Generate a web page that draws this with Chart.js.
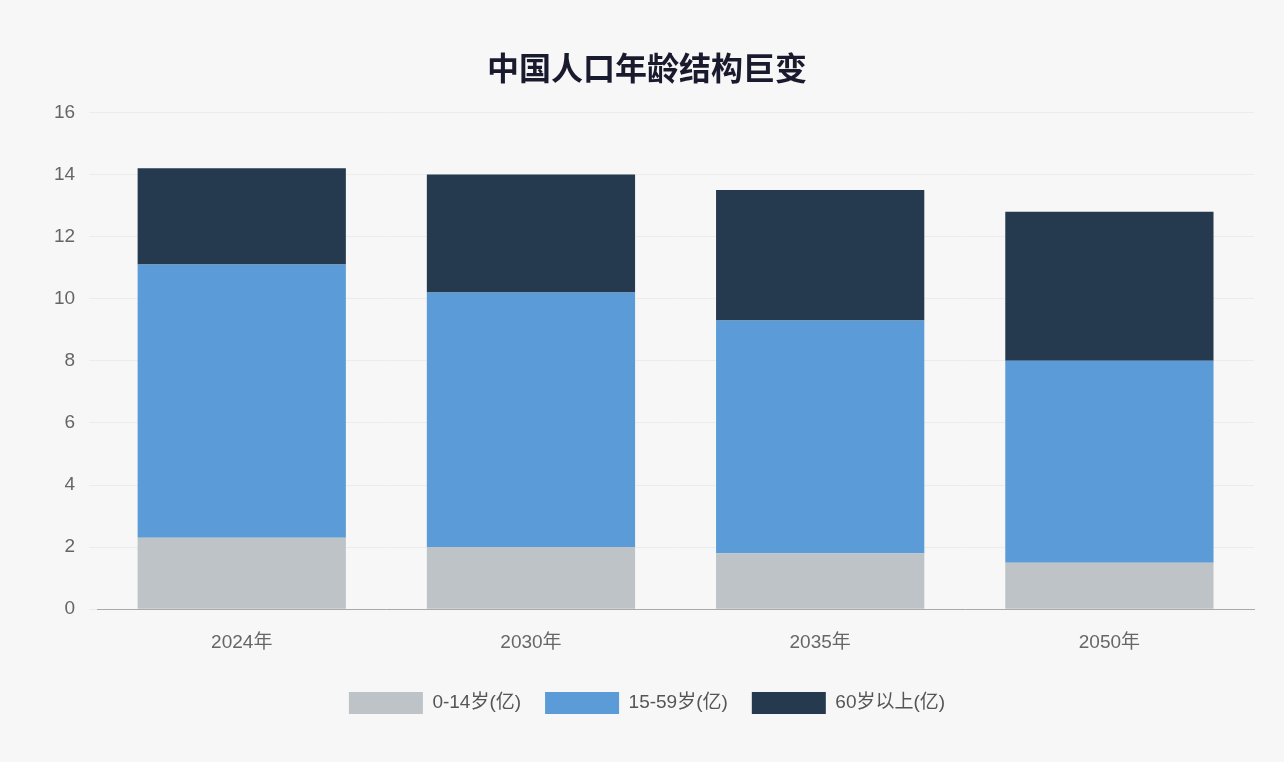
<!DOCTYPE html>
<html>
<head>
<meta charset="utf-8">
<script src="https://cdn.jsdelivr.net/npm/chart.js@4"></script>
<style>
  html, body { margin: 0; padding: 0; background: #f7f7f7; }
  #wrap { width: 1284px; height: 762px; position: relative; }
</style>
</head>
<body>
<div id="wrap"><canvas id="chart"></canvas></div>
<script>
// Data
const years = ['2024年', '2030年', '2035年', '2050年'];
const children = [2.3, 2.0, 1.8, 1.5];
const working = [8.8, 8.2, 7.5, 6.5];
const elderly = [3.1, 3.8, 4.2, 4.8];

const font = "'Liberation Sans', 'Noto Sans CJK SC', sans-serif";

new Chart(document.getElementById('chart'), {
    type: 'bar',
    data: {
        labels: years,
        datasets: [
            { label: '0-14岁(亿)', data: children, backgroundColor: '#bec3c7' },
            { label: '15-59岁(亿)', data: working, backgroundColor: '#5b9bd7' },
            { label: '60岁以上(亿)', data: elderly, backgroundColor: '#253a4f' }
        ]
    },
    options: {
        responsive: true,
        maintainAspectRatio: false,
        animation: false,
        categoryPercentage: 0.8,
        barPercentage: 0.9,
        layout: { padding: { left: 40, right: 30, top: 52, bottom: 38 } },
        plugins: {
            title: {
                display: true,
                text: '中国人口年龄结构巨变',
                color: '#1a1a2e',
                font: { family: font, size: 32, weight: 'bold' },
                padding: { bottom: 22 }
            },
            legend: {
                position: 'bottom',
                labels: {
                    boxWidth: 74, boxHeight: 22, padding: 24,
                    color: '#555',
                    font: { family: font, size: 19 }
                }
            },
            tooltip: { enabled: false }
        },
        scales: {
            x: {
                stacked: true,
                grid: { display: false },
                border: { color: '#aaa' },
                ticks: { color: '#666', font: { family: font, size: 19 }, padding: 14 }
            },
            y: {
                stacked: true,
                min: 0, max: 16,
                ticks: { stepSize: 2, color: '#666', font: { family: font, size: 19 }, padding: 14 },
                grid: { color: '#ececec' },
                border: { display: false }
            }
        }
    }
});
</script>
</body>
</html>
